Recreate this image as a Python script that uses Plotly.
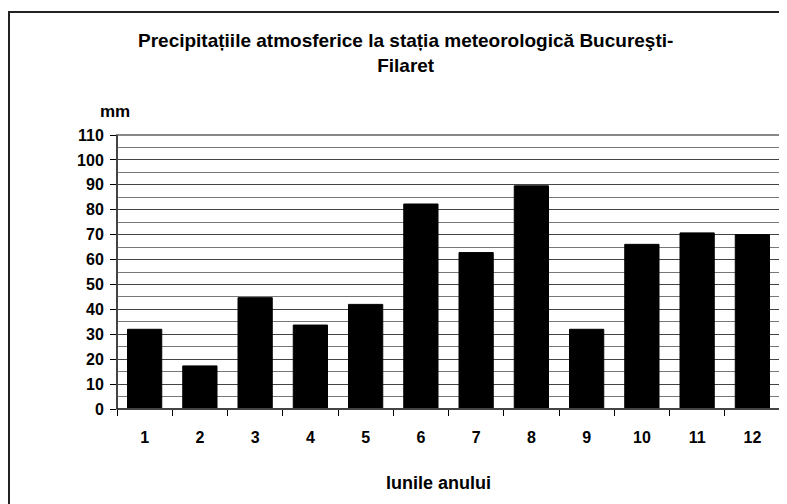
import plotly.graph_objects as go

months = ["1", "2", "3", "4", "5", "6", "7", "8", "9", "10", "11", "12"]
precip_mm = [32, 17.3, 44.7, 33.7, 42, 82.3, 62.8, 89.6, 32, 66.1, 70.7, 70]
y_ticks = list(range(0, 111, 10))

OFF = 8  # default page body margin
W, H = 787 - OFF, 504 - OFF
# plot area in page pixels
L, R, T, B = 117 - OFF, 780 - OFF, 134.7 - OFF, 409 - OFF
pw, ph = R - L, B - T

def px(x):  # page x -> paper
    return (x - OFF - L) / pw

def py(y):  # page y -> paper
    return (B - (y - OFF)) / ph

FONT = "Liberation Sans, Arial, sans-serif"

fig = go.Figure(go.Bar(
    x=months, y=precip_mm,
    marker=dict(color="black", line=dict(color="black", width=1)),
    width=0.62,
))

fig.update_layout(
    width=W, height=H,
    margin=dict(l=L, r=W - R, t=T, b=H - B, pad=0),
    paper_bgcolor="white", plot_bgcolor="white",
    showlegend=False,
    font=dict(family=FONT, size=16, color="black"),
    xaxis=dict(
        type="category",
        showgrid=False,
        tickson="boundaries",
        ticks="outside", ticklen=6, tickcolor="black",
        showline=True, linecolor="black", linewidth=1,
        tickfont=dict(family=FONT, size=16, color="black", weight="bold"),
        ticklabelstandoff=14,
    ),
    yaxis=dict(
        range=[0, 110],
        tickvals=y_ticks,
        ticks="outside", ticklen=6, tickcolor="black",
        showline=True, linecolor="black", linewidth=1,
        showgrid=True, gridcolor="#444", gridwidth=1,
        minor=dict(dtick=5, tick0=0, showgrid=True, gridcolor="#777", gridwidth=1),
        zeroline=False,
        tickfont=dict(family=FONT, size=16, color="black", weight="bold"),
        ticklabelstandoff=3,
    ),
    shapes=[
        dict(type="rect", xref="paper", yref="paper", x0=0, x1=1, y0=0, y1=1,
             line=dict(color="#888", width=2), layer="above"),
        dict(type="line", xref="paper", yref="paper", x0=0, x1=0, y0=0, y1=1,
             line=dict(color="black", width=1), layer="above"),
        dict(type="line", xref="paper", yref="paper", x0=0, x1=1, y0=0, y1=0,
             line=dict(color="black", width=1), layer="above"),
        dict(type="line", xref="paper", yref="paper", x0=px(9), x1=px(9), y0=py(10.5), y1=py(504),
             line=dict(color="#222", width=2)),
        dict(type="line", xref="paper", yref="paper", x0=px(8), x1=px(787), y0=py(11.5), y1=py(11.5),
             line=dict(color="#222", width=2)),
    ],
    annotations=[
        dict(text="<b>Precipitațiile atmosferice la stația meteorologică Bucureşti-<br>Filaret</b>",
             xref="paper", yref="paper", x=px(405), y=py(53), xanchor="center", yanchor="middle",
             showarrow=False, font=dict(family=FONT, size=19, color="black"), align="center"),
        dict(text="<b>mm</b>", xref="paper", yref="paper", x=px(115), y=py(111),
             xanchor="center", yanchor="middle", showarrow=False,
             font=dict(family=FONT, size=17, color="black")),
        dict(text="<b>lunile anului</b>", xref="paper", yref="paper", x=px(438), y=py(483),
             xanchor="center", yanchor="middle", showarrow=False,
             font=dict(family=FONT, size=18, color="black")),
    ],
)

fig.write_html(
    "out.html",
    config={"displayModeBar": False},
    post_script="document.documentElement.style.overflow='hidden';document.body.style.overflow='hidden';",
)
